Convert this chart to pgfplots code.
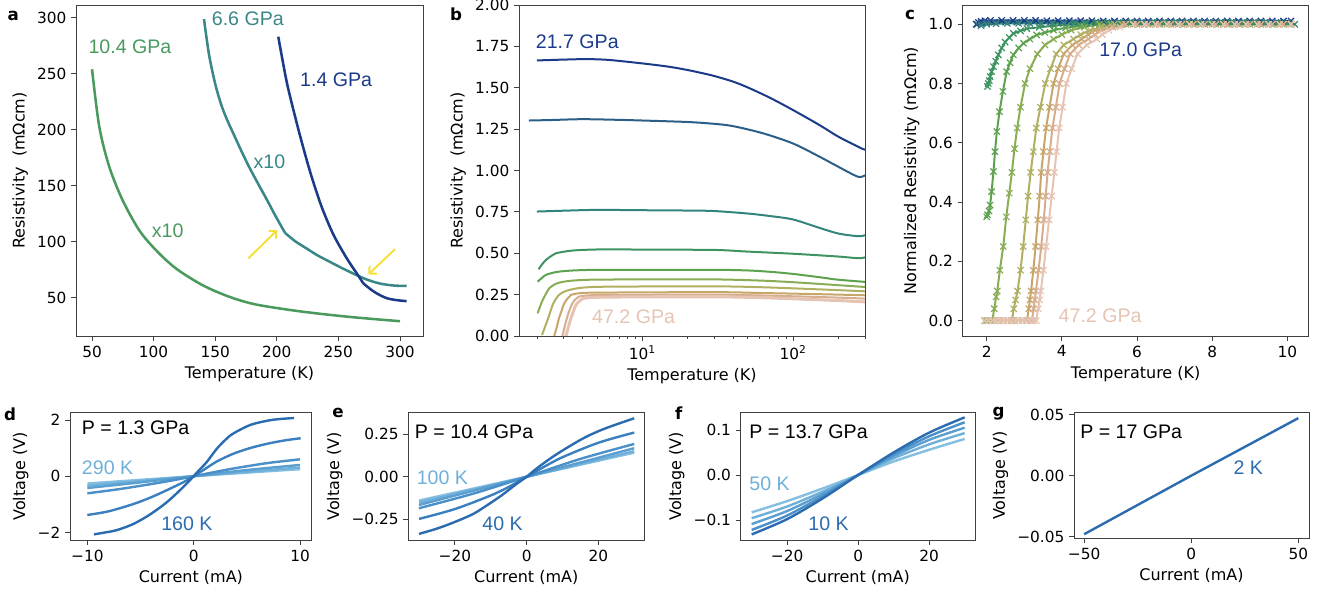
\documentclass[border=0pt]{standalone}
\usepackage{pgfplots}
\pgfplotsset{compat=1.18}
\usepackage{fontspec}
\setmainfont{DejaVu Sans}
\newfontfamily\arial{Liberation Sans}
\usetikzlibrary{arrows.meta}

\definecolor{aGreen}{HTML}{4A9A5E}
\definecolor{aTeal}{HTML}{3A8788}
\definecolor{cN}{HTML}{1B3A8A}
\definecolor{cS}{HTML}{2C5F88}
\definecolor{cT}{HTML}{32857A}
\definecolor{cA}{HTML}{3E9460}
\definecolor{cB}{HTML}{5DA24E}
\definecolor{cC}{HTML}{88AD55}
\definecolor{cD}{HTML}{B0B062}
\definecolor{cE}{HTML}{C8A66A}
\definecolor{cF}{HTML}{D6AE8E}
\definecolor{cG}{HTML}{E6C4B4}
\definecolor{arrowY}{HTML}{F7E03C}
\definecolor{d1}{HTML}{2B6CB0}
\definecolor{d2}{HTML}{3A7FBF}
\definecolor{d3}{HTML}{4A8FC8}
\definecolor{d4}{HTML}{5B9ED0}
\definecolor{d5}{HTML}{6FB0DA}
\definecolor{d6}{HTML}{84BFE2}

\newcommand{\annfont}{\arial\fontsize{14.7}{16}\selectfont}

\pgfplotsset{
  myaxis/.style={
    scale only axis,
    anchor=south west,
    axis line style={black!75, line width=0.6pt},
    tick align=outside,
    tick pos=left,
    major tick length=3.75pt,
    minor tick length=2.2pt,
    every tick/.style={black!75, line width=0.6pt},
    tick label style={font=\fontsize{11.5}{13}\selectfont},
    label style={font=\fontsize{12}{14}\selectfont},
    scaled ticks=false,
    clip=true,
  },
}

\begin{document}
\begin{tikzpicture}
\useasboundingbox (0,0) rectangle (990pt,444pt);

% ---------------- panel a ----------------
\begin{axis}[myaxis, at={(57pt,192pt)}, width=260.25pt, height=248.25pt,
  xmin=37, xmax=318.7, ymin=16, ymax=311.3,
  xtick={50,100,150,200,250,300}, xticklabels={50,100,150,200,250,300},
  ytick={50,100,150,200,250,300}, yticklabels={50,100,150,200,250,300},
  xlabel={Temperature (K)}, ylabel={Resistivity\ \ (mΩcm)}]
\addplot[aGreen, line width=1.9pt, smooth] coordinates {
 (50,254) (55.9,202.7) (64,167) (74.8,137.2) (88.3,110.4) (101.9,92.6) (118.2,76.2)
 (139.8,61.3) (161.4,51) (183.1,44.1) (218.8,38) (259.4,33) (300,29.2)};
\addplot[aTeal, line width=1.9pt, smooth] coordinates {
 (140.9,298.8) (145,267) (150,241) (155,222) (160,208) (165,196) (170,184) (177,168)
 (185,151.5) (192,137.5) (199,123) (206.7,108)};
\addplot[aTeal, line width=1.9pt, smooth] coordinates {
 (206.7,108) (215,100.5) (224.3,94) (233,88) (243.2,82.1) (254,76) (264.8,70.3)
 (274,66) (283.8,62.8) (295,61) (305.4,60.7)};
\addplot[cN, line width=1.9pt, smooth] coordinates {
 (201.2,283) (208,243) (214.8,212) (221.5,184) (228.3,158) (236.4,131.3)
 (245.9,106.6) (256.7,85.5) (266.2,69.8) (270.2,63)};
\addplot[cN, line width=1.9pt, smooth] coordinates {
 (270.2,63) (277,57) (283.8,52.4) (290,49.5) (297.3,48) (305.4,47.1)};
\draw[arrowY, line width=1.5pt, -{Straight Barb[length=4pt,width=8pt]}] (axis cs:176.9,85.2) -- (axis cs:200.4,110.5);
\draw[arrowY, line width=1.5pt, -{Straight Barb[length=4pt,width=8pt]}] (axis cs:296,93.5) -- (axis cs:274.3,70.9);
\node[anchor=west, inner sep=0, text=aGreen, font=\annfont] at (axis cs:47,274) {10.4 GPa};
\node[anchor=west, inner sep=0, text=aTeal, font=\annfont] at (axis cs:147.1,299.4) {6.6 GPa};
\node[anchor=west, inner sep=0, text=cN, font=\annfont] at (axis cs:218.8,245) {1.4 GPa};
\node[anchor=west, inner sep=0, text=aTeal, font=\annfont] at (axis cs:181,171.4) {x10};
\node[anchor=west, inner sep=0, text=aGreen, font=\annfont] at (axis cs:98.4,109.8) {x10};
\end{axis}

% ---------------- panel b ----------------
\begin{axis}[myaxis, at={(389.25pt,192pt)}, width=259.5pt, height=248.25pt,
  xmode=log, xmin=1.52, xmax=300, ymin=0, ymax=2,
  xtick={10,100}, xticklabels={10\textsuperscript{1},10\textsuperscript{2}},
  minor xtick={2,3,4,5,6,7,8,9,20,30,40,50,60,70,80,90,200,300},
  ytick={0,0.25,0.5,0.75,1,1.25,1.5,1.75,2},
  yticklabels={0.00,0.25,0.50,0.75,1.00,1.25,1.50,1.75,2.00},
  xlabel={Temperature (K)}, ylabel={Resistivity\ \ (mΩcm)}]
\addplot[cN, line width=1.5pt, smooth] coordinates {
 (2,1.665) (3,1.67) (4.26,1.673) (6,1.668) (10,1.647) (15,1.627) (20,1.607) (25,1.588)
 (30,1.571) (40,1.537) (50,1.502) (70,1.44) (100,1.365) (150,1.274) (200,1.204) (285,1.133) (300,1.128)};
\addplot[cS, line width=1.5pt, smooth] coordinates {
 (1.77,1.302) (2.5,1.305) (4,1.31) (7,1.306) (10,1.302) (20,1.293) (30,1.282) (40,1.268)
 (63,1.225) (100,1.163) (150,1.083) (200,1.022) (270,0.962) (300,0.972)};
\addplot[cT, line width=1.5pt, smooth] coordinates {
 (2,0.752) (3,0.757) (5,0.762) (10,0.76) (20,0.758) (30,0.755) (50,0.74) (70,0.725)
 (100,0.704) (150,0.653) (200,0.619) (270,0.603) (300,0.609)};
\addplot[cA, line width=1.5pt, smooth] coordinates {
 (2.05,0.403) (2.15,0.43) (2.29,0.459) (2.5,0.485) (2.67,0.5) (3.27,0.514) (4,0.52) (6,0.524)
 (10,0.522) (30,0.52) (50,0.51) (100,0.497) (200,0.48) (270,0.47) (300,0.475)};
\addplot[cB, line width=1.5pt, smooth] coordinates {
 (2.02,0.328) (2.15,0.35) (2.29,0.369) (2.5,0.38) (2.8,0.389) (3.5,0.396) (5,0.4) (10,0.4)
 (30,0.4) (50,0.396) (70,0.388) (100,0.375) (150,0.355) (200,0.34) (300,0.327)};
\addplot[cC, line width=1.5pt, smooth] coordinates {
 (2.02,0.137) (2.1,0.18) (2.18,0.217) (2.3,0.257) (2.41,0.288) (2.6,0.31) (2.8,0.322)
 (3.3,0.333) (4.5,0.34) (10,0.342) (30,0.342) (60,0.335) (100,0.325) (200,0.307) (300,0.296)};
\addplot[cD, line width=1.5pt, smooth] coordinates {
 (2.16,0.006) (2.25,0.05) (2.35,0.097) (2.45,0.145) (2.54,0.187) (2.65,0.22) (2.8,0.248)
 (3.0,0.266) (3.27,0.278) (4,0.292) (6,0.298) (30,0.3) (60,0.295) (100,0.288) (200,0.277) (300,0.27)};
\addplot[cE, line width=1.5pt, smooth] coordinates {
 (2.6,0.0) (2.7,0.05) (2.8,0.107) (2.92,0.155) (3.03,0.197) (3.2,0.228) (3.36,0.248)
 (3.8,0.258) (5,0.262) (30,0.265) (60,0.26) (100,0.256) (200,0.25) (300,0.246)};
\addplot[cF, line width=1.5pt, smooth] coordinates {
 (2.95,0) (3.06,0.06) (3.18,0.117) (3.3,0.16) (3.43,0.197) (3.6,0.222) (3.8,0.238)
 (4.5,0.246) (6,0.248) (30,0.25) (60,0.245) (100,0.24) (200,0.232) (300,0.226)};
\addplot[cG, line width=2.3pt, smooth] coordinates {
 (3.11,0) (3.22,0.05) (3.36,0.107) (3.5,0.152) (3.62,0.187) (3.85,0.213) (4.11,0.228)
 (5,0.234) (8,0.236) (30,0.237) (60,0.232) (100,0.225) (200,0.214) (300,0.206)};
\node[anchor=west, inner sep=0, text=cN, font=\annfont] at (axis cs:1.96,1.78) {21.7 GPa};
\node[anchor=west, inner sep=0, text=cG, font=\annfont] at (axis cs:4.63,0.119) {47.2 GPa};
\end{axis}

% ---------------- panel c ----------------
\begin{axis}[myaxis, at={(722pt,192pt)}, width=259.5pt, height=248.25pt,
  xmin=1.36, xmax=10.57, ymin=-0.052, ymax=1.065,
  xtick={2,4,6,8,10}, xticklabels={2,4,6,8,10},
  ytick={0,0.2,0.4,0.6,0.8,1.0}, yticklabels={0.0,0.2,0.4,0.6,0.8,1.0},
  xlabel={Temperature (K)}, ylabel={Normalized Resistivity (mΩcm)},
  every axis plot/.append style={line width=1.5pt, mark=x, mark size=3.3pt,
     mark options={line width=0.9pt, solid}}]
\addplot[cN] coordinates {
 (1.72,1.0) (1.78,1.006) (1.85,1.01) (1.95,1.012) (2.1,1.013) (2.4,1.013) (2.7,1.013)
 (3.0,1.013) (3.3,1.013) (3.6,1.012) (3.9,1.012) (4.2,1.012) (4.5,1.012) (4.8,1.012)
 (5.1,1.011) (5.4,1.011) (5.7,1.011) (6.0,1.011) (6.3,1.011) (6.6,1.011) (6.9,1.011)
 (7.2,1.011) (7.5,1.011) (7.8,1.011) (8.1,1.011) (8.4,1.011) (8.7,1.011) (9.0,1.011)
 (9.3,1.011) (9.6,1.011) (9.9,1.011) (10.1,1.011)};
\addplot[cS] coordinates {
 (1.75,1.0) (1.85,1.004) (2.0,1.006) (2.2,1.007) (2.5,1.007) (2.8,1.007) (3.1,1.007)
 (3.4,1.007) (3.7,1.007) (4.0,1.007) (4.3,1.007) (4.6,1.007) (4.9,1.007) (5.2,1.006)
 (5.5,1.006) (5.8,1.006) (6.1,1.006) (6.4,1.006) (6.7,1.006) (7.0,1.006) (7.3,1.006)
 (7.6,1.006) (7.9,1.006) (8.2,1.006) (8.5,1.006) (8.8,1.006) (9.1,1.006) (9.4,1.006)
 (9.7,1.006) (10.0,1.006)};
\addplot[cT] coordinates {
 (1.85,0.995) (2.0,1.0) (2.25,1.002) (2.55,1.003) (2.85,1.003) (3.15,1.003) (3.45,1.003)
 (3.75,1.003) (4.05,1.003) (4.35,1.004) (4.65,1.004) (4.95,1.005) (5.25,1.005) (5.55,1.006)
 (5.85,1.007) (6.15,1.008) (6.45,1.008) (6.75,1.008) (7.05,1.008) (7.35,1.008) (7.65,1.008)
 (7.95,1.008) (8.25,1.008) (8.55,1.008) (8.85,1.008) (9.15,1.008) (9.45,1.007) (9.75,1.005) (10.2,1.0)};
\addplot[cA] coordinates {
 (2.02,0.79) (2.04,0.8) (2.07,0.81) (2.09,0.823) (2.13,0.84) (2.18,0.857) (2.24,0.875)
 (2.31,0.897) (2.4,0.92) (2.49,0.94) (2.6,0.955) (2.71,0.969) (2.9,0.978) (3.07,0.985)
 (3.4,0.99) (3.8,0.995) (4.3,1.0) (4.6,1.002) (4.9,1.002) (5.2,1.002) (5.5,1.002) (5.8,1.002)
 (6.1,1.002) (6.4,1.002) (6.7,1.002) (7.0,1.002) (7.3,1.002) (7.6,1.002) (7.9,1.002)
 (8.2,1.002) (8.5,1.002) (8.8,1.002) (9.1,1.002) (9.4,1.002) (9.7,1.002) (10.0,1.002)};
\addplot[cB] coordinates {
 (2.0,0.35) (2.02,0.357) (2.06,0.37) (2.09,0.39) (2.13,0.435) (2.18,0.503) (2.22,0.57)
 (2.27,0.638) (2.34,0.705) (2.43,0.773) (2.53,0.84) (2.62,0.87) (2.71,0.897) (2.85,0.92)
 (2.98,0.936) (3.15,0.95) (3.33,0.964) (3.55,0.972) (3.78,0.98) (4.1,0.988) (4.5,0.995)
 (5.0,1.0) (5.3,1.0) (5.6,1.0) (5.9,1.0) (6.2,1.0) (6.5,1.0) (6.8,1.0) (7.1,1.0) (7.4,1.0)
 (7.7,1.0) (8.0,1.0) (8.3,1.0) (8.6,1.0) (8.9,1.0) (9.2,1.0) (9.5,1.0) (9.8,1.0) (10.1,1.0)};
\addplot[cC] coordinates {
 (1.95,0) (2.0,0) (2.05,0) (2.1,0) (2.15,0) (2.2,0.04) (2.25,0.08) (2.28,0.1) (2.35,0.17)
 (2.44,0.25) (2.52,0.35) (2.6,0.43) (2.67,0.5) (2.74,0.58) (2.81,0.65) (2.9,0.72) (3.02,0.8)
 (3.15,0.85) (3.35,0.9) (3.55,0.93) (3.78,0.95) (4.0,0.965) (4.25,0.98) (4.6,0.99) (5.0,1.0)
 (5.3,1.0) (5.6,1.0) (5.9,1.0) (6.2,1.0) (6.5,1.0) (6.8,1.0) (7.1,1.0) (7.4,1.0)
 (7.7,1.0) (8.0,1.0) (8.3,1.0) (8.6,1.0) (8.9,1.0) (9.2,1.0) (9.5,1.0) (9.8,1.0) (10.1,1.0)};
\addplot[cD] coordinates {
 (1.95,0) (2.05,0) (2.15,0) (2.25,0) (2.35,0) (2.45,0) (2.55,0) (2.67,0) (2.72,0.04)
 (2.77,0.07) (2.82,0.1) (2.9,0.17) (2.97,0.25) (3.04,0.34) (3.1,0.42) (3.17,0.5) (3.24,0.57)
 (3.32,0.65) (3.43,0.72) (3.56,0.8) (3.7,0.85) (3.85,0.9) (4.05,0.93) (4.31,0.95) (4.5,0.965)
 (4.75,0.98) (5.05,0.99) (5.4,1.0) (5.7,1.0) (6.0,1.0) (6.3,1.0) (6.6,1.0) (6.9,1.0) (7.2,1.0)
 (7.5,1.0) (7.8,1.0) (8.1,1.0) (8.4,1.0) (8.7,1.0) (9.0,1.0) (9.3,1.0) (9.6,1.0) (9.9,1.0) (10.1,1.0)};
\addplot[cE] coordinates {
 (1.95,0) (2.05,0) (2.15,0) (2.25,0) (2.35,0) (2.45,0) (2.55,0) (2.65,0) (2.75,0) (2.85,0)
 (2.95,0) (3.07,0) (3.12,0.04) (3.15,0.07) (3.18,0.1) (3.24,0.17) (3.3,0.25) (3.36,0.34)
 (3.41,0.42) (3.45,0.5) (3.51,0.57) (3.58,0.65) (3.67,0.72) (3.78,0.8) (3.9,0.85) (4.05,0.9)
 (4.28,0.93) (4.53,0.95) (4.7,0.965) (4.9,0.98) (5.2,0.99) (5.6,1.0) (5.9,1.0) (6.2,1.0)
 (6.5,1.0) (6.8,1.0) (7.1,1.0) (7.4,1.0) (7.7,1.0) (8.0,1.0) (8.3,1.0) (8.6,1.0) (8.9,1.0)
 (9.2,1.0) (9.5,1.0) (9.8,1.0) (10.1,1.0)};
\addplot[cF] coordinates {
 (1.95,0) (2.05,0) (2.15,0) (2.25,0) (2.35,0) (2.45,0) (2.55,0) (2.65,0) (2.75,0) (2.85,0)
 (2.95,0) (3.05,0) (3.2,0) (3.25,0.04) (3.28,0.07) (3.31,0.1) (3.38,0.17) (3.45,0.25)
 (3.52,0.34) (3.57,0.42) (3.62,0.5) (3.68,0.57) (3.75,0.65) (3.84,0.72) (3.94,0.8) (4.07,0.85)
 (4.22,0.9) (4.45,0.93) (4.71,0.95) (4.88,0.965) (5.05,0.98) (5.35,0.99) (5.7,1.0) (6.0,1.0)
 (6.3,1.0) (6.6,1.0) (6.9,1.0) (7.2,1.0) (7.5,1.0) (7.8,1.0) (8.1,1.0) (8.4,1.0) (8.7,1.0)
 (9.0,1.0) (9.3,1.0) (9.6,1.0) (9.9,1.0) (10.1,1.0)};
\addplot[cG] coordinates {
 (1.95,0) (2.05,0) (2.15,0) (2.25,0) (2.35,0) (2.45,0) (2.55,0) (2.65,0) (2.75,0) (2.85,0)
 (2.95,0) (3.05,0) (3.15,0) (3.25,0) (3.32,0) (3.37,0.04) (3.41,0.07) (3.44,0.1) (3.51,0.17)
 (3.58,0.25) (3.66,0.34) (3.73,0.42) (3.8,0.5) (3.86,0.57) (3.93,0.65) (4.02,0.72) (4.12,0.8)
 (4.26,0.85) (4.42,0.9) (4.66,0.93) (4.93,0.95) (5.08,0.965) (5.25,0.98) (5.55,0.99) (5.9,1.0)
 (6.2,1.0) (6.5,1.0) (6.8,1.0) (7.1,1.0) (7.4,1.0) (7.7,1.0) (8.0,1.0) (8.3,1.0) (8.6,1.0)
 (8.9,1.0) (9.2,1.0) (9.5,1.0) (9.8,1.0) (10.1,1.0)};
\node[anchor=west, inner sep=0, text=cN, font=\annfont] at (axis cs:4.99,0.913) {17.0 GPa};
\node[anchor=west, inner sep=0, text=cG, font=\annfont] at (axis cs:3.91,0.016) {47.2 GPa};
\end{axis}

% ---------------- panel d ----------------
\begin{axis}[myaxis, at={(52.5pt,39pt)}, width=181.3pt, height=95.5pt,
  xmin=-11.63, xmax=11.1, ymin=-2.27, ymax=2.26,
  xtick={-10,0,10}, xticklabels={−10,0,10},
  ytick={-2,0,2}, yticklabels={−2,0,2},
  xlabel={Current (mA)}, ylabel={Voltage (V)},
  every axis plot/.append style={line width=1.8pt, smooth}]
\addplot[d6] coordinates {(-10,-0.26) (0,0) (10,0.25)};
\addplot[d5] coordinates {(-10,-0.34) (0,0) (10,0.31)};
\addplot[d4] coordinates {(-10,-0.42) (-5,-0.22) (0,0) (5,0.22) (10,0.40)};
\addplot[d3] coordinates {(-10,-0.61) (-7,-0.46) (-4,-0.28) (-2,-0.15) (0,0) (2,0.15) (4,0.29) (7,0.47) (10,0.60)};
\addplot[d2] coordinates {(-10,-1.38) (-8,-1.25) (-5.67,-0.99) (-4,-0.75) (-2.54,-0.5) (-1,-0.22) (0,0) (1,0.24) (2.16,0.52) (3.73,0.80) (5.3,1.0) (6.87,1.15) (8.5,1.27) (10.06,1.35)};
\addplot[d1] coordinates {(-9.37,-2.07) (-8.3,-2.0) (-7.24,-1.92) (-5.67,-1.70) (-4.1,-1.36) (-2.54,-0.93) (-1.29,-0.50) (-0.5,-0.2) (0,0) (0.5,0.21) (1.22,0.50) (2.16,0.97) (3,1.30) (3.73,1.52) (5.3,1.82) (6.87,1.97) (8.0,2.03) (9.44,2.07)};
\node[anchor=west, inner sep=0, text=black, font=\annfont] at (axis cs:-10.53,1.715) {P = 1.3 GPa};
\node[anchor=west, inner sep=0, text=d5, font=\annfont] at (axis cs:-10.53,0.31) {290 K};
\node[anchor=west, inner sep=0, text=d1, font=\annfont] at (axis cs:-3.07,-1.68) {160 K};
\end{axis}

% ---------------- panel e ----------------
\begin{axis}[myaxis, at={(306.2pt,39pt)}, width=177pt, height=95.5pt,
  xmin=-33, xmax=32.8, ymin=-0.372, ymax=0.377,
  xtick={-20,0,20}, xticklabels={−20,0,20},
  ytick={-0.25,0,0.25}, yticklabels={−0.25,0.00,0.25},
  xlabel={Current (mA)}, ylabel={Voltage (V)},
  every axis plot/.append style={line width=1.8pt, smooth}]
\addplot[d6] coordinates {(-30,-0.14) (0,0) (30,0.142)};
\addplot[d5] coordinates {(-30,-0.152) (0,0) (30,0.150)};
\addplot[d4] coordinates {(-30,-0.166) (0,0) (30,0.168)};
\addplot[d3] coordinates {(-30,-0.185) (-15,-0.1) (0,0) (15,0.105) (30,0.193)};
\addplot[d2] coordinates {(-30,-0.248) (-20,-0.19) (-10,-0.11) (-5,-0.06) (0,0) (5,0.06) (10,0.115) (20,0.2) (30,0.26)};
\addplot[d1] coordinates {(-30,-0.336) (-25,-0.305) (-20.5,-0.27) (-15,-0.22) (-11.2,-0.17) (-7,-0.11) (-3,-0.045) (0,0) (3,0.052) (7.4,0.119) (12,0.18) (16.7,0.236) (22,0.285) (30,0.344)};
\node[anchor=west, inner sep=0, text=black, font=\annfont] at (axis cs:-31.2,0.266) {P = 10.4 GPa};
\node[anchor=west, inner sep=0, text=d5, font=\annfont] at (axis cs:-30.7,-0.003) {100 K};
\node[anchor=west, inner sep=0, text=d1, font=\annfont] at (axis cs:-12.4,-0.274) {40 K};
\end{axis}

% ---------------- panel f ----------------
\begin{axis}[myaxis, at={(555.5pt,39pt)}, width=175.7pt, height=95.5pt,
  xmin=-33.1, xmax=32.9, ymin=-0.1444, ymax=0.1384,
  xtick={-20,0,20}, xticklabels={−20,0,20},
  ytick={-0.1,0,0.1}, yticklabels={−0.1,0.0,0.1},
  xlabel={Current (mA)}, ylabel={Voltage (V)},
  every axis plot/.append style={line width=1.8pt, smooth}]
\addplot[d6] coordinates {(-30,-0.083) (-20,-0.058) (-10,-0.03) (0,0) (10,0.03) (20,0.056) (30,0.080)};
\addplot[d5] coordinates {(-30,-0.096) (-20,-0.07) (-10,-0.037) (0,0) (10,0.037) (20,0.068) (30,0.093)};
\addplot[d4] coordinates {(-30,-0.109) (-20,-0.08) (-10,-0.042) (0,0) (10,0.042) (20,0.078) (30,0.105)};
\addplot[d3] coordinates {(-30,-0.122) (-20,-0.09) (-10,-0.047) (0,0) (10,0.046) (20,0.086) (30,0.117)};
\addplot[d1] coordinates {(-30,-0.132) (-20,-0.098) (-10,-0.052) (0,0) (10,0.05) (20,0.094) (30,0.128)};
\node[anchor=west, inner sep=0, text=black, font=\annfont] at (axis cs:-30.7,0.096) {P = 13.7 GPa};
\node[anchor=west, inner sep=0, text=d5, font=\annfont] at (axis cs:-30.7,-0.0185) {50 K};
\node[anchor=west, inner sep=0, text=d1, font=\annfont] at (axis cs:-14.1,-0.109) {10 K};
\end{axis}

% ---------------- panel g ----------------
\begin{axis}[myaxis, at={(805.5pt,40.3pt)}, width=176.25pt, height=94.2pt,
  xmin=-54.7, xmax=55, ymin=-0.0514, ymax=0.0518,
  xtick={-50,0,50}, xticklabels={−50,0,50},
  ytick={-0.05,0,0.05}, yticklabels={−0.05,0.00,0.05},
  xlabel={Current (mA)}, ylabel={Voltage (V)}]
\addplot[d1, line width=1.8pt] coordinates {(-50,-0.0481) (0,0) (50,0.0473)};
\node[anchor=west, inner sep=0, text=black, font=\annfont] at (axis cs:-51.9,0.0363) {P = 17 GPa};
\node[anchor=west, inner sep=0, text=d1, font=\annfont] at (axis cs:19.7,0.007) {2 K};
\end{axis}

% panel letters
\begin{scope}[every node/.style={font=\bfseries\fontsize{12.5}{13}\selectfont, inner sep=0}]
\node at (10pt,432pt) {a};
\node at (342pt,433pt) {b};
\node at (682.5pt,432.5pt) {c};
\node at (7.5pt,133.5pt) {d};
\node at (253.5pt,134.25pt) {e};
\node at (509pt,134.25pt) {f};
\node at (749pt,133.5pt) {g};
\end{scope}
\end{tikzpicture}
\end{document}
